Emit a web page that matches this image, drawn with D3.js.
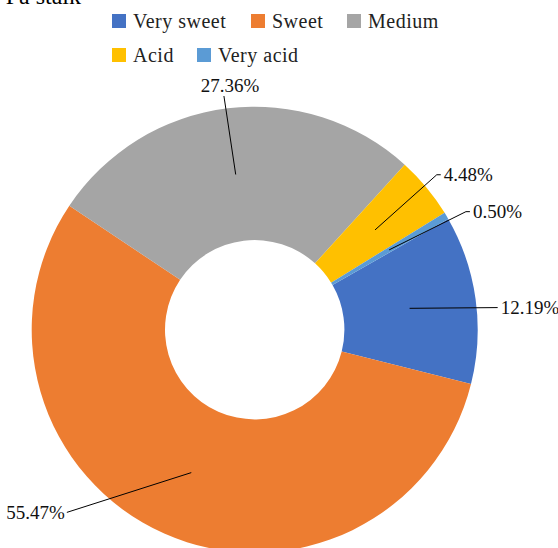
<!DOCTYPE html>
<html>
<head>
<meta charset="utf-8">
<script src="https://cdn.jsdelivr.net/npm/d3@7"></script>
<style>
  html, body { margin: 0; padding: 0; background: #fff; overflow: hidden; }
  svg { display: block; font-family: "Liberation Serif", "DejaVu Serif", serif; }
</style>
</head>
<body>
<div id="chart"></div>
<script>
// data
const categories = ['Very sweet', 'Sweet', 'Medium', 'Acid', 'Very acid'];
const shares = [12.19, 55.47, 27.36, 4.48, 0.50];
const colors = ['#4472C4', '#ED7D31', '#A5A5A5', '#FFC000', '#5B9BD5'];

// where each data label sits: angle (deg, clockwise from top) and radius as share of outer radius
const labelAngle = [84.8, 225.8, -7.5, 49.6, 60.8];
const labelReach = [1.094, 1.175, 1.057, 1.072, 1.085];

const width = 558, height = 548;
const cx = 254.7, cy = 329.7;
const outerR = 223, innerR = 89.7;
const firstSliceAngle = 60.2;

const svg = d3.select('#chart')
    .append('svg')
    .attr('width', width)
    .attr('height', height);

// title, cut off at the top edge
svg.append('text')
    .attr('x', 81)
    .attr('y', 3.5)
    .attr('text-anchor', 'end')
    .attr('font-size', 24)
    .attr('fill', '#000')
    .text('Pa stalk');

// legend
const legendRows = [
    [{ i: 0, x: 112 }, { i: 1, x: 251 }, { i: 2, x: 347 }],
    [{ i: 3, x: 112 }, { i: 4, x: 197 }]
];
const legendY = [14, 48];

legendRows.forEach((row, r) => {
    const g = svg.append('g');
    row.forEach(item => {
        g.append('rect')
            .attr('x', item.x)
            .attr('y', legendY[r])
            .attr('width', 14)
            .attr('height', 14)
            .attr('fill', colors[item.i]);
        g.append('text')
            .attr('x', item.x + 21)
            .attr('y', legendY[r] + 13.5)
            .attr('font-size', 20)
            .attr('letter-spacing', 0.5)
            .attr('fill', '#222')
            .text(categories[item.i]);
    });
});

// donut
const rad = Math.PI / 180;
const pie = d3.pie()
    .sort(null)
    .value(d => d)
    .startAngle(firstSliceAngle * rad)
    .endAngle(firstSliceAngle * rad + 2 * Math.PI);

const arc = d3.arc()
    .innerRadius(innerR)
    .outerRadius(outerR);

const arcs = pie(shares);

const plot = svg.append('g')
    .attr('transform', `translate(${cx},${cy})`);

plot.selectAll('path')
    .data(arcs)
    .join('path')
    .attr('d', arc)
    .attr('fill', (d, i) => colors[i]);

// leader lines and labels
const labels = plot.append('g');

arcs.forEach((d, i) => {
    const start = arc.centroid(d);
    const a = labelAngle[i] * rad;
    const end = d3.pointRadial(a, outerR * labelReach[i]);
    const deg = ((labelAngle[i] % 360) + 360) % 360;
    const side = deg > 20 && deg < 160 ? 'right' : (deg > 200 && deg < 340 ? 'left' : 'top');

    const pts = [start, end];
    let tx, ty, anchor;
    if (side === 'right') {
        const tick = Math.abs(end[1] - start[1]) < 2 ? 0 : 4;
        pts.push([end[0] + tick, end[1]]);
        tx = end[0] + tick + 3;
        ty = end[1];
        anchor = 'start';
    } else if (side === 'left') {
        tx = end[0] - 2;
        ty = end[1];
        anchor = 'end';
    } else {
        tx = end[0] + 6;
        ty = end[1] - 10;
        anchor = 'middle';
    }

    labels.append('path')
        .attr('d', d3.line()(pts))
        .attr('fill', 'none')
        .attr('stroke', '#000')
        .attr('stroke-width', 1);

    labels.append('text')
        .attr('x', tx)
        .attr('y', ty)
        .attr('dy', '0.33em')
        .attr('text-anchor', anchor)
        .attr('font-size', 19)
        .attr('fill', '#111')
        .text(shares[i].toFixed(2) + '%');
});
</script>
</body>
</html>
